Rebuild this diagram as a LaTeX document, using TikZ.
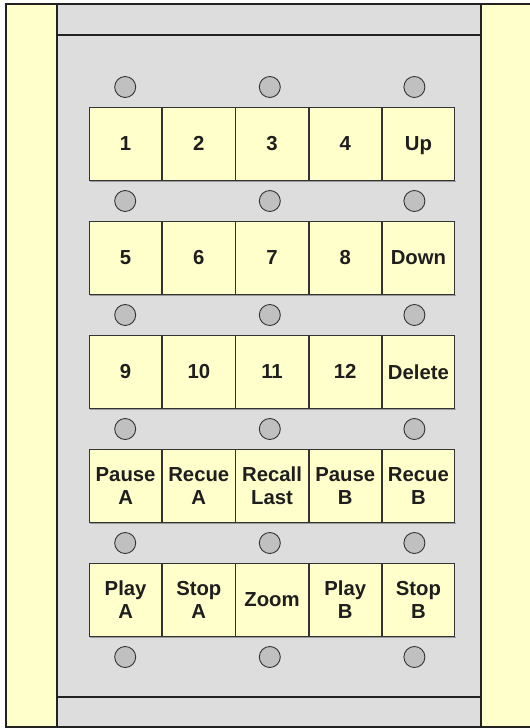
\documentclass[tikz,border=0pt]{standalone}
\usepackage{fontspec}
\setmainfont{Liberation Sans}
\definecolor{stripfill}{HTML}{FFFFCC}
\definecolor{panelfill}{HTML}{DDDDDD}
\definecolor{btnfill}{HTML}{FFFFCC}
\definecolor{ledfill}{HTML}{C0C0C0}
\definecolor{linec}{HTML}{222222}
\definecolor{btnline}{HTML}{333333}
\definecolor{shadowc}{HTML}{999999}
\definecolor{txt}{HTML}{1E1E1E}
\begin{document}
\begin{tikzpicture}[x=1bp,y=-1bp,
  frame/.style={draw=linec, line width=2bp},
  btn/.style={draw=btnline, line width=0.9bp, fill=btnfill,
    minimum width=72.3bp, minimum height=72.7bp, inner sep=0pt,
    align=center, text=txt, text depth=0pt,
    font=\bfseries\fontsize{20.3bp}{22.7bp}\selectfont, anchor=north west},
  nxt/.style={btn, anchor=north west},
  shade/.style={draw=shadowc, line width=1.2bp},
  led/.style={circle, draw=btnline, fill=ledfill, minimum size=21bp,
    inner sep=0pt, line width=0.9bp}]
\useasboundingbox (0,0) rectangle (530,728);
% strips and panel
\fill[stripfill] (6,4) rectangle (545,727);
\fill[panelfill] (57,4) rectangle (481,727);
\draw[frame] (545,4) -- (6,4) -- (6,727) -- (545,727);
\draw[frame] (57,4) -- (57,727);
\draw[frame] (481,4) -- (481,727);
\draw[frame] (57,35) -- (481,35);
\draw[frame] (57,697) -- (481,697);
% row 1
\node[btn] (b11) at (89,107) {1};
\node[nxt] (b12) at (b11.north east) {2};
\node[nxt] (b13) at (b12.north east) {3};
\node[nxt] (b14) at (b13.north east) {4};
\node[nxt] (b15) at (b14.north east) {Up};
% row 2
\node[btn] (b21) at (89,221) {5};
\node[nxt] (b22) at (b21.north east) {6};
\node[nxt] (b23) at (b22.north east) {7};
\node[nxt] (b24) at (b23.north east) {8};
\node[nxt] (b25) at (b24.north east) {Down};
% row 3
\node[btn] (b31) at (89,335) {9};
\node[nxt] (b32) at (b31.north east) {10};
\node[nxt] (b33) at (b32.north east) {11};
\node[nxt] (b34) at (b33.north east) {12};
\node[nxt] (b35) at (b34.north east) {Delete};
% row 4
\node[btn] (b41) at (89,449) {Pause\\A};
\node[nxt] (b42) at (b41.north east) {Recue\\A};
\node[nxt] (b43) at (b42.north east) {Recall\\Last};
\node[nxt] (b44) at (b43.north east) {Pause\\B};
\node[nxt] (b45) at (b44.north east) {Recue\\B};
% row 5
\node[btn] (b51) at (89,563) {Play\\A};
\node[nxt] (b52) at (b51.north east) {Stop\\A};
\node[nxt] (b53) at (b52.north east) {Zoom};
\node[nxt] (b54) at (b53.north east) {Play\\B};
\node[nxt] (b55) at (b54.north east) {Stop\\B};
% shadows under rows
\foreach \r in {1,...,5}{
  \draw[shade] ([shift={(0.5,1.1)}]b\r1.south west) -- ([shift={(0.5,1.1)}]b\r5.south east);
}
% leds
\foreach \r/\y in {0/87,1/201,2/315,3/429,4/543,5/657}{
  \node[led] (la\r) at (125.2,\y) {};
  \node[led] (lb\r) at (269.8,\y) {};
  \node[led] (lc\r) at (414.4,\y) {};
}
\end{tikzpicture}
\end{document}
